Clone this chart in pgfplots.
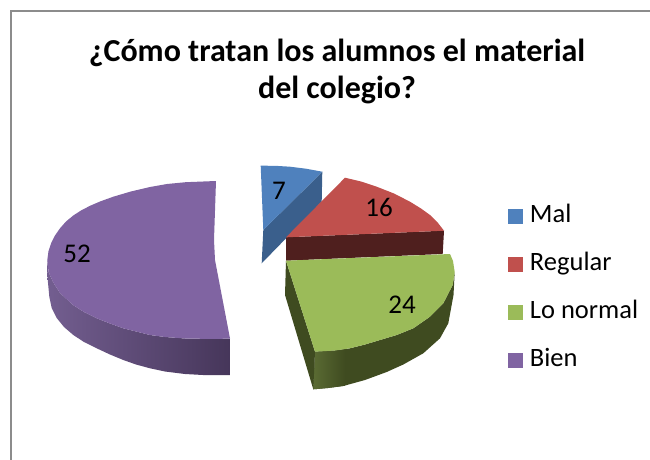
\documentclass[border=0pt]{standalone}
\usepackage{pgfplots}
\pgfplotsset{compat=1.18}
\usepackage{fontspec}
\setmainfont{Carlito}
\definecolor{cblue}{HTML}{4F81BD}
\definecolor{cred}{HTML}{C0504D}
\definecolor{cgreen}{HTML}{9BBB59}
\definecolor{cpurple}{HTML}{8064A2}
\definecolor{wblue}{HTML}{3A5F8C}
\definecolor{wred}{HTML}{4F1F1E}
\definecolor{wgreenA}{HTML}{5A6B33}
\definecolor{wgreenB}{HTML}{3F4B20}
\definecolor{wpurpleA}{HTML}{735E90}
\definecolor{wpurpleB}{HTML}{46365A}
\definecolor{framegray}{HTML}{8C8C8C}
\begin{document}
\begin{tikzpicture}
\path[use as bounding box] (0,0) rectangle (650pt,460pt);
\begin{axis}[
  at={(0,0)},anchor=south west,
  width=650pt,height=460pt,scale only axis,
  xmin=0,xmax=650,ymin=0,ymax=460,y dir=reverse,
  axis lines=none,clip=false,
  legend cell align=left,
  legend image code/.code={\fill[#1] (0pt,-7.5pt) rectangle (15pt,7.5pt);},
  legend style={at={(rel axis cs:0.7815,0.5535)},anchor=north west,draw=none,fill=none,
    font=\fontsize{26.5}{26}\selectfont,row sep=25pt,column sep=7pt,inner sep=0pt,outer sep=0pt,
    nodes={inner sep=0pt,text height=17pt,text depth=6pt}},
]
% frame
\addplot[forget plot,framegray,line width=2pt] coordinates {(11,460) (11,11) (650,11)};
% Mal
\addplot[forget plot,fill=wblue,draw=none] coordinates {(322.3,171.7) (321.7,201.7) (261.7,263.3) (263.3,230)};
\addplot[fill=cblue,draw=none] coordinates {(260.7,165.7) (275,165.8) (290,166.7) (306,168.7) (322.3,171.7) (263.3,230)};
\addlegendentry{Mal}
% Regular
\addplot[forget plot,fill=wred,draw=none] coordinates {(444,230.7) (442.7,254) (286,260.7) (286,237.3)};
\addplot[fill=cred,draw=none] coordinates {(345,177.7) (361,181.5) (376.7,186.7) (394,193.5) (410,201.7) (421,208.5) (430,215) (438,223) (444,230.7) (286,237.3)};
\addlegendentry{Regular}
% Lo normal
\addplot[forget plot,draw=none,fill=wgreenB] coordinates {(315,351.7) (335,350.5) (350,348.3) (365,344.5) (380,340) (396.7,335) (413.3,328.3) (430,316.7) (443.3,303.3) (452.7,285) (454.7,272) (453.5,295) (448.3,323.3) (440,338.3) (423.3,353.3) (403.3,364.5) (386.7,372) (365,380) (343.3,386) (328,388) (313.3,389.3)};
\addplot[forget plot,draw=none,left color=wgreenA,right color=wgreenB] coordinates {(315,351.7) (335,350.5) (345,349.3) (345,385.7) (328,388) (313.3,389.3)};
\addplot[forget plot,fill=wgreenB,draw=none] coordinates {(286,260.7) (285,295) (313.3,389.3) (315,351.7)};
\addplot[fill=cgreen,draw=none] coordinates {(450,254) (286,260.7) (315,351.7) (335,350.5) (350,348.3) (365,344.5) (380,340) (396.7,335) (413.3,328.3) (430,316.7) (443.3,303.3) (452.7,285) (454.7,272) (453,261)};
\addlegendentry{Lo normal}
% Bien
\addplot[forget plot,draw=none,left color=wpurpleA,right color=wpurpleB] coordinates {(47,260) (48.6,272) (53,282) (60,293) (73,305) (84,312) (96.7,318.3) (110,323.5) (123.3,328.3) (150,335) (165,337) (185,338.5) (215,339) (230,338.5) (230,375) (203,375) (185,374) (165,371.5) (150,368.3) (136,364.5) (123.3,360) (110,354.5) (96.7,348.3) (84,342) (73.3,335) (64,327) (56.7,318) (51.7,308) (49.3,296.7) (47.3,275)};
\addplot[fill=cpurple,draw=none] coordinates {(216,181) (185.6,182.2) (167,184) (150,187) (130.5,191.6) (113.3,196.7) (100,201.5) (90,205.8) (81,210.5) (73.3,215.5) (66,221.5) (60,228.3) (55,235.5) (51.2,243) (48.5,251) (47.3,260) (48.6,272) (53,282) (60,293) (73,305) (84,312) (96.7,318.3) (110,323.5) (123.3,328.3) (150,335) (165,337) (185,338.5) (215,339) (230,338.5) (215,260) (214,240)};
\addlegendentry{Bien}
% texts
\node[font=\fontsize{27}{27}\selectfont] at (axis cs:279,191) {7};
\node[font=\fontsize{27}{27}\selectfont] at (axis cs:379,207) {16};
\node[font=\fontsize{27}{27}\selectfont] at (axis cs:402,305) {24};
\node[font=\fontsize{27}{27}\selectfont] at (axis cs:77,254) {52};
\node[font=\fontsize{32}{36.5}\selectfont\bfseries,align=center,anchor=north] at (axis cs:337,36) {¿Cómo tratan los alumnos el material\\del colegio?};
\end{axis}
\end{tikzpicture}
\end{document}
